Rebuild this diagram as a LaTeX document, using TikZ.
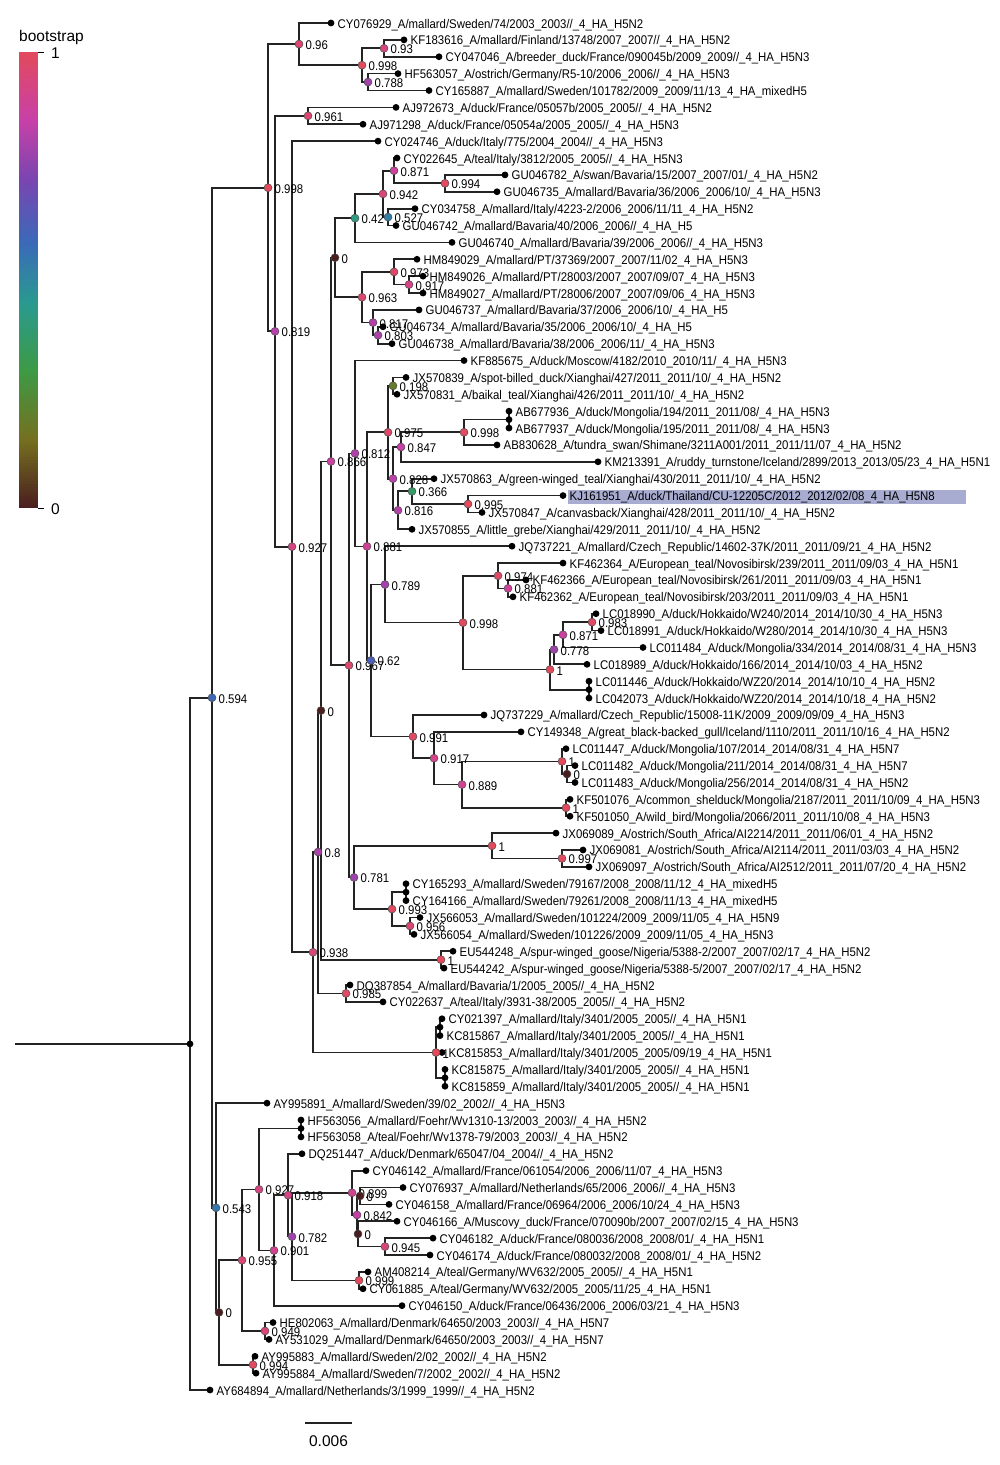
\documentclass[tikz,border=0pt]{standalone}
\usepackage{fontspec}
\usepackage{graphicx}
\setmainfont{Liberation Sans}
\usetikzlibrary{backgrounds}
\definecolor{cs0}{HTML}{4A1E1E}
\definecolor{cs1}{HTML}{757020}
\definecolor{cs2}{HTML}{3D9A45}
\definecolor{cs3}{HTML}{2A9A90}
\definecolor{cs4}{HTML}{3A6AB8}
\definecolor{cs5}{HTML}{7A45B0}
\definecolor{cs6}{HTML}{C840A8}
\definecolor{cs7}{HTML}{E24A5C}
\definecolor{hlcol}{RGB}{168,172,208}
\definecolor{brcol}{RGB}{35,35,35}
\newcommand\bsseg[5]{\pgfmathtruncatemacro\bsp{round(100*(#1-#2)/(#3-#2))}\colorlet{bscur}{#5!\bsp!#4}}
\newcommand\bsmix[1]{%
 \pgfmathsetmacro\bsv{#1}%
 \ifdim\bsv pt<0.15pt \bsseg{\bsv}{0}{0.15}{cs0}{cs1}%
 \else\ifdim\bsv pt<0.3pt \bsseg{\bsv}{0.15}{0.3}{cs1}{cs2}%
 \else\ifdim\bsv pt<0.45pt \bsseg{\bsv}{0.3}{0.45}{cs2}{cs3}%
 \else\ifdim\bsv pt<0.58pt \bsseg{\bsv}{0.45}{0.58}{cs3}{cs4}%
 \else\ifdim\bsv pt<0.72pt \bsseg{\bsv}{0.58}{0.72}{cs4}{cs5}%
 \else\ifdim\bsv pt<0.85pt \bsseg{\bsv}{0.72}{0.85}{cs5}{cs6}%
 \else \bsseg{\bsv}{0.85}{1}{cs6}{cs7}%
 \fi\fi\fi\fi\fi\fi}
\newcommand\nfont{\fontsize{12.6}{14}\selectfont}
\newcommand\nt[1]{\scalebox{0.905}[1]{\nfont #1}}
\tikzset{
 brst/.style={draw=brcol, line width=1.7pt},
 leafdot/.style={circle, fill=black, inner sep=0pt, minimum size=6.8pt},
 bsdot/.style={circle, draw=black!70, line width=0.5pt, inner sep=0pt, minimum size=8pt},
 nodot/.style={circle, fill=black, inner sep=0pt, minimum size=6.8pt},
 leaflab/.style={anchor=base west, inner sep=0pt},
 bslab/.style={anchor=base west, inner sep=0pt},
 plainlab/.style={inner sep=0pt, font=\fontsize{15.5}{17}\selectfont},
}
\newcommand\lf[4]{\node[leafdot] (#1) at (#2,#3) {}; \node[leaflab] (#1t) at ([xshift=6.5pt,yshift=-5pt]#1.center) {\nt{\detokenize{#4}}};}
\newcommand\bn[4]{\bsmix{#4}\node[bsdot, fill=bscur] (#1) at (#2,#3) {}; \node[bslab] (#1t) at ([xshift=6.5pt,yshift=-5.5pt]#1.center) {\nt{#4}};}
\newcommand\zn[3]{\node[nodot] (#1) at (#2,#3) {};}
\newcommand\kids[2]{\foreach \ch in {#2}{\draw[brst] (#1.center) |- (\ch.center);}}
\begin{document}
\begin{tikzpicture}[x=1pt,y=-1pt]
\useasboundingbox (0,0) rectangle (1000,1465);
% colour bar
\foreach \i in {0,...,151}{\pgfmathsetmacro\vv{(\i+0.5)/152}\bsmix{\vv}\fill[bscur] (19,{508-(\i+1)*3}) rectangle (38,{508-\i*3+0.4});}
\node[plainlab, anchor=base west] (cbt) at (19,41) {bootstrap};
\coordinate (tk1a) at (38,52); \coordinate (tk1b) at (44,52);
\coordinate (tk0a) at (38,508); \coordinate (tk0b) at (44,508);
\draw[line width=0.8pt] (tk1a) -- (tk1b); \draw[line width=0.8pt] (tk0a) -- (tk0b);
\node[plainlab, anchor=west] (cb1) at (51,53) {1};
\node[plainlab, anchor=west] (cb0) at (51,509) {0};
% scale bar
\coordinate (sb1) at (305,1423); \coordinate (sb2) at (352,1423);
\draw[brst, line width=1.3pt] (sb1) -- (sb2);
\node[plainlab] (sbt) at (328.5,1441) {0.006};
\begin{scope}[yshift=-23pt, y=-16.877pt]
% leaves
\lf{L0}{331}{0}{CY076929_A/mallard/Sweden/74/2003_2003//_4_HA_H5N2}
\lf{L1}{404}{1}{KF183616_A/mallard/Finland/13748/2007_2007//_4_HA_H5N2}
\lf{L2}{439}{2}{CY047046_A/breeder_duck/France/090045b/2009_2009//_4_HA_H5N3}
\lf{L3}{398}{3}{HF563057_A/ostrich/Germany/R5-10/2006_2006//_4_HA_H5N3}
\lf{L4}{429}{4}{CY165887_A/mallard/Sweden/101782/2009_2009/11/13_4_HA_mixedH5}
\lf{L5}{396}{5}{AJ972673_A/duck/France/05057b/2005_2005//_4_HA_H5N2}
\lf{L6}{363}{6}{AJ971298_A/duck/France/05054a/2005_2005//_4_HA_H5N3}
\lf{L7}{378}{7}{CY024746_A/duck/Italy/775/2004_2004//_4_HA_H5N3}
\lf{L8}{397}{8}{CY022645_A/teal/Italy/3812/2005_2005//_4_HA_H5N3}
\lf{L9}{505}{9}{GU046782_A/swan/Bavaria/15/2007_2007/01/_4_HA_H5N2}
\lf{L10}{497}{10}{GU046735_A/mallard/Bavaria/36/2006_2006/10/_4_HA_H5N3}
\lf{L11}{415}{11}{CY034758_A/mallard/Italy/4223-2/2006_2006/11/11_4_HA_H5N2}
\lf{L12}{396}{12}{GU046742_A/mallard/Bavaria/40/2006_2006//_4_HA_H5}
\lf{L13}{452}{13}{GU046740_A/mallard/Bavaria/39/2006_2006//_4_HA_H5N3}
\lf{L14}{417}{14}{HM849029_A/mallard/PT/37369/2007_2007/11/02_4_HA_H5N3}
\lf{L15}{423}{15}{HM849026_A/mallard/PT/28003/2007_2007/09/07_4_HA_H5N3}
\lf{L16}{423}{16}{HM849027_A/mallard/PT/28006/2007_2007/09/06_4_HA_H5N3}
\lf{L17}{419}{17}{GU046737_A/mallard/Bavaria/37/2006_2006/10/_4_HA_H5}
\lf{L18}{383}{18}{GU046734_A/mallard/Bavaria/35/2006_2006/10/_4_HA_H5}
\lf{L19}{392}{19}{GU046738_A/mallard/Bavaria/38/2006_2006/11/_4_HA_H5N3}
\lf{L20}{464}{20}{KF885675_A/duck/Moscow/4182/2010_2010/11/_4_HA_H5N3}
\lf{L21}{406}{21}{JX570839_A/spot-billed_duck/Xianghai/427/2011_2011/10/_4_HA_H5N2}
\lf{L22}{397}{22}{JX570831_A/baikal_teal/Xianghai/426/2011_2011/10/_4_HA_H5N2}
\lf{L23}{509}{23}{AB677936_A/duck/Mongolia/194/2011_2011/08/_4_HA_H5N3}
\lf{L24}{509}{24}{AB677937_A/duck/Mongolia/195/2011_2011/08/_4_HA_H5N3}
\lf{L25}{497}{25}{AB830628_A/tundra_swan/Shimane/3211A001/2011_2011/11/07_4_HA_H5N2}
\lf{L26}{598}{26}{KM213391_A/ruddy_turnstone/Iceland/2899/2013_2013/05/23_4_HA_H5N1}
\lf{L27}{434}{27}{JX570863_A/green-winged_teal/Xianghai/430/2011_2011/10/_4_HA_H5N2}
\lf{L28}{563}{28}{KJ161951_A/duck/Thailand/CU-12205C/2012_2012/02/08_4_HA_H5N8}
\lf{L29}{482}{29}{JX570847_A/canvasback/Xianghai/428/2011_2011/10/_4_HA_H5N2}
\lf{L30}{412}{30}{JX570855_A/little_grebe/Xianghai/429/2011_2011/10/_4_HA_H5N2}
\lf{L31}{512}{31}{JQ737221_A/mallard/Czech_Republic/14602-37K/2011_2011/09/21_4_HA_H5N2}
\lf{L32}{563}{32}{KF462364_A/European_teal/Novosibirsk/239/2011_2011/09/03_4_HA_H5N1}
\lf{L33}{526}{33}{KF462366_A/European_teal/Novosibirsk/261/2011_2011/09/03_4_HA_H5N1}
\lf{L34}{513}{34}{KF462362_A/European_teal/Novosibirsk/203/2011_2011/09/03_4_HA_H5N1}
\lf{L35}{596}{35}{LC018990_A/duck/Hokkaido/W240/2014_2014/10/30_4_HA_H5N3}
\lf{L36}{601}{36}{LC018991_A/duck/Hokkaido/W280/2014_2014/10/30_4_HA_H5N3}
\lf{L37}{643}{37}{LC011484_A/duck/Mongolia/334/2014_2014/08/31_4_HA_H5N3}
\lf{L38}{587}{38}{LC018989_A/duck/Hokkaido/166/2014_2014/10/03_4_HA_H5N2}
\lf{L39}{589}{39}{LC011446_A/duck/Hokkaido/WZ20/2014_2014/10/10_4_HA_H5N2}
\lf{L40}{589}{40}{LC042073_A/duck/Hokkaido/WZ20/2014_2014/10/18_4_HA_H5N2}
\lf{L41}{484}{41}{JQ737229_A/mallard/Czech_Republic/15008-11K/2009_2009/09/09_4_HA_H5N3}
\lf{L42}{521}{42}{CY149348_A/great_black-backed_gull/Iceland/1110/2011_2011/10/16_4_HA_H5N2}
\lf{L43}{566}{43}{LC011447_A/duck/Mongolia/107/2014_2014/08/31_4_HA_H5N7}
\lf{L44}{575}{44}{LC011482_A/duck/Mongolia/211/2014_2014/08/31_4_HA_H5N7}
\lf{L45}{575}{45}{LC011483_A/duck/Mongolia/256/2014_2014/08/31_4_HA_H5N2}
\lf{L46}{570}{46}{KF501076_A/common_shelduck/Mongolia/2187/2011_2011/10/09_4_HA_H5N3}
\lf{L47}{570}{47}{KF501050_A/wild_bird/Mongolia/2066/2011_2011/10/08_4_HA_H5N3}
\lf{L48}{556}{48}{JX069089_A/ostrich/South_Africa/AI2214/2011_2011/06/01_4_HA_H5N2}
\lf{L49}{583}{49}{JX069081_A/ostrich/South_Africa/AI2114/2011_2011/03/03_4_HA_H5N2}
\lf{L50}{589}{50}{JX069097_A/ostrich/South_Africa/AI2512/2011_2011/07/20_4_HA_H5N2}
\lf{L51}{406}{51}{CY165293_A/mallard/Sweden/79167/2008_2008/11/12_4_HA_mixedH5}
\lf{L52}{406}{52}{CY164166_A/mallard/Sweden/79261/2008_2008/11/13_4_HA_mixedH5}
\lf{L53}{420}{53}{JX566053_A/mallard/Sweden/101224/2009_2009/11/05_4_HA_H5N9}
\lf{L54}{414}{54}{JX566054_A/mallard/Sweden/101226/2009_2009/11/05_4_HA_H5N3}
\lf{L55}{453}{55}{EU544248_A/spur-winged_goose/Nigeria/5388-2/2007_2007/02/17_4_HA_H5N2}
\lf{L56}{444}{56}{EU544242_A/spur-winged_goose/Nigeria/5388-5/2007_2007/02/17_4_HA_H5N2}
\lf{L57}{350}{57}{DQ387854_A/mallard/Bavaria/1/2005_2005//_4_HA_H5N2}
\lf{L58}{383}{58}{CY022637_A/teal/Italy/3931-38/2005_2005//_4_HA_H5N2}
\lf{L59}{442}{59}{CY021397_A/mallard/Italy/3401/2005_2005//_4_HA_H5N1}
\lf{L60}{440}{60}{KC815867_A/mallard/Italy/3401/2005_2005//_4_HA_H5N1}
\lf{L61}{442}{61}{KC815853_A/mallard/Italy/3401/2005_2005/09/19_4_HA_H5N1}
\lf{L62}{445}{62}{KC815875_A/mallard/Italy/3401/2005_2005//_4_HA_H5N1}
\lf{L63}{445}{63}{KC815859_A/mallard/Italy/3401/2005_2005//_4_HA_H5N1}
\lf{L64}{267}{64}{AY995891_A/mallard/Sweden/39/02_2002//_4_HA_H5N3}
\lf{L65}{301}{65}{HF563056_A/mallard/Foehr/Wv1310-13/2003_2003//_4_HA_H5N2}
\lf{L66}{301}{66}{HF563058_A/teal/Foehr/Wv1378-79/2003_2003//_4_HA_H5N2}
\lf{L67}{302}{67}{DQ251447_A/duck/Denmark/65047/04_2004//_4_HA_H5N2}
\lf{L68}{366}{68}{CY046142_A/mallard/France/061054/2006_2006/11/07_4_HA_H5N3}
\lf{L69}{403}{69}{CY076937_A/mallard/Netherlands/65/2006_2006//_4_HA_H5N3}
\lf{L70}{389}{70}{CY046158_A/mallard/France/06964/2006_2006/10/24_4_HA_H5N3}
\lf{L71}{397}{71}{CY046166_A/Muscovy_duck/France/070090b/2007_2007/02/15_4_HA_H5N3}
\lf{L72}{433}{72}{CY046182_A/duck/France/080036/2008_2008/01/_4_HA_H5N1}
\lf{L73}{430}{73}{CY046174_A/duck/France/080032/2008_2008/01/_4_HA_H5N2}
\lf{L74}{368}{74}{AM408214_A/teal/Germany/WV632/2005_2005//_4_HA_H5N1}
\lf{L75}{363}{75}{CY061885_A/teal/Germany/WV632/2005_2005/11/25_4_HA_H5N1}
\lf{L76}{402}{76}{CY046150_A/duck/France/06436/2006_2006/03/21_4_HA_H5N3}
\lf{L77}{273}{77}{HE802063_A/mallard/Denmark/64650/2003_2003//_4_HA_H5N7}
\lf{L78}{269}{78}{AY531029_A/mallard/Denmark/64650/2003_2003//_4_HA_H5N7}
\lf{L79}{255}{79}{AY995883_A/mallard/Sweden/2/02_2002//_4_HA_H5N2}
\lf{L80}{256}{80}{AY995884_A/mallard/Sweden/7/2002_2002//_4_HA_H5N2}
\lf{L81}{210}{81}{AY684894_A/mallard/Netherlands/3/1999_1999//_4_HA_H5N2}
% internal nodes
\zn{root}{190}{60.49}
\coordinate (stem) at (15,60.49);
\bn{n594}{212}{39.98}{0.594}
\bn{n998d}{268}{9.76}{0.998}
\bn{n96}{299}{1.25}{0.96}
\bn{n998a}{362}{2.5}{0.998}
\bn{n93}{384}{1.5}{0.93}
\bn{n788}{368}{3.5}{0.788}
\bn{n819}{275}{18.27}{0.819}
\bn{n961}{308}{5.5}{0.961}
\bn{n927}{292}{31.03}{0.927}
\bn{n938}{313}{55.06}{0.938}
\bn{n8}{318}{49.12}{0.8}
\bn{n0c}{321}{40.74}{0}
\bn{n866}{331}{25.98}{0.866}
\bn{nA}{335}{13.906}{0}
\bn{n42}{355}{11.5625}{0.42}
\bn{n942}{383}{10.125}{0.942}
\bn{n871}{394}{8.75}{0.871}
\bn{n994}{445}{9.5}{0.994}
\bn{n527}{388}{11.5}{0.527}
\bn{n963}{362}{16.25}{0.963}
\bn{n973}{394}{14.75}{0.973}
\bn{n917a}{409}{15.5}{0.917}
\bn{n817}{373}{17.75}{0.817}
\bn{n803}{378}{18.5}{0.803}
\bn{n967}{349}{38.06}{0.967}
\bn{n812}{355}{25.5}{0.812}
\bn{n881}{367}{31.01}{0.881}
\bn{n975}{388}{24.25}{0.975}
\bn{n198}{393}{21.5}{0.198}
\bn{n828}{393}{27.0}{0.828}
\bn{n847}{401}{25.125}{0.847}
\bn{n998b}{464}{24.25}{0.998}
\zn{nAB}{509}{23.5}
\bn{n816}{398}{28.875}{0.816}
\bn{n366}{412}{27.75}{0.366}
\bn{n995}{468}{28.5}{0.995}
\bn{n62}{371}{37.77}{0.62}
\bn{n789}{385}{33.27}{0.789}
\bn{n998c}{463}{35.53}{0.998}
\bn{n974}{498}{32.75}{0.974}
\bn{n881b}{508}{33.5}{0.881}
\bn{n1a}{550}{38.31}{1}
\bn{n778}{554}{37.125}{0.778}
\bn{n871b}{563}{36.25}{0.871}
\bn{n983}{592}{35.5}{0.983}
\zn{nLC}{589}{39.5}
\bn{n991}{413}{42.28}{0.991}
\bn{n917b}{434}{43.56}{0.917}
\bn{n889}{462}{45.125}{0.889}
\bn{n1b}{562}{43.75}{1}
\bn{n0b}{567}{44.5}{0}
\bn{n1c}{566}{46.5}{1}
\bn{n781}{354}{50.625}{0.781}
\bn{n1d}{492}{48.75}{1}
\bn{n997}{562}{49.5}{0.997}
\bn{n993}{392}{52.5}{0.993}
\zn{nSw}{406}{51.5}
\bn{n956}{410}{53.5}{0.956}
\bn{n1e}{441}{55.5}{1}
\bn{n985}{346}{57.5}{0.985}
\bn{n1f}{436}{61.0}{1}
\zn{nIt1}{440}{59.5}
\zn{nIt2}{445}{62.5}
\bn{n543}{216}{70.20}{0.543}
\bn{n0f}{219}{76.40}{0}
\bn{n955}{242}{73.31}{0.955}
\bn{n927b}{259}{69.11}{0.927}
\zn{nHF}{301}{65.5}
\bn{n901}{274}{72.73}{0.901}
\bn{n918}{288}{69.45}{0.918}
\bn{n782}{292}{71.91}{0.782}
\bn{n899}{352}{69.31}{0.899}
\bn{n842}{357}{70.625}{0.842}
\bn{n0d}{360}{69.5}{0}
\bn{n0e}{358}{71.75}{0}
\bn{n945}{385}{72.5}{0.945}
\bn{n999}{359}{74.5}{0.999}
\bn{n949}{265}{77.5}{0.949}
\bn{n994b}{253}{79.5}{0.994}
\begin{pgfonlayer}{background}
\fill[hlcol] ([xshift=5pt,yshift=6pt]L28.center) rectangle ([xshift=403pt,yshift=-8.2pt]L28.center);
\draw[brst] (stem) -- (root.center);
\kids{root}{n594,L81}
\kids{n594}{n998d,n543}
\kids{n998d}{n96,n819}
\kids{n96}{L0,n998a}
\kids{n998a}{n93,n788}
\kids{n93}{L1,L2}
\kids{n788}{L3,L4}
\kids{n819}{n961,n927}
\kids{n961}{L5,L6}
\kids{n927}{L7,n938}
\kids{n938}{n8,n1f}
\kids{n8}{n0c,n985}
\kids{n0c}{n866,n1e}
\kids{n866}{nA,n967}
\kids{nA}{n42,n963}
\kids{n42}{n942,L13}
\kids{n942}{n871,n527}
\kids{n871}{L8,n994}
\kids{n994}{L9,L10}
\kids{n527}{L11,L12}
\kids{n963}{n973,n817}
\kids{n973}{L14,n917a}
\kids{n917a}{L15,L16}
\kids{n817}{L17,n803}
\kids{n803}{L18,L19}
\kids{n967}{n812,n781}
\kids{n812}{L20,n881}
\kids{n881}{n975,n62}
\kids{n975}{n198,n828}
\kids{n198}{L21,L22}
\kids{n828}{n847,n816}
\kids{n847}{n998b,L26}
\kids{n998b}{nAB,L25}
\kids{nAB}{L23,L24}
\kids{n816}{n366,L30}
\kids{n366}{L27,n995}
\kids{n995}{L28,L29}
\kids{n62}{n789,n991}
\kids{n789}{L31,n998c}
\kids{n998c}{n974,n1a}
\kids{n974}{L32,n881b}
\kids{n881b}{L33,L34}
\kids{n1a}{n778,nLC}
\kids{n778}{n871b,L38}
\kids{n871b}{n983,L37}
\kids{n983}{L35,L36}
\kids{nLC}{L39,L40}
\kids{n991}{L41,n917b}
\kids{n917b}{L42,n889}
\kids{n889}{n1b,n1c}
\kids{n1b}{L43,n0b}
\kids{n0b}{L44,L45}
\kids{n1c}{L46,L47}
\kids{n781}{n1d,n993}
\kids{n1d}{L48,n997}
\kids{n997}{L49,L50}
\kids{n993}{nSw,n956}
\kids{nSw}{L51,L52}
\kids{n956}{L53,L54}
\kids{n1e}{L55,L56}
\kids{n985}{L57,L58}
\kids{n1f}{nIt1,L61,nIt2}
\kids{nIt1}{L59,L60}
\kids{nIt2}{L62,L63}
\kids{n543}{L64,n0f}
\kids{n0f}{n955,n994b}
\kids{n955}{n927b,n949}
\kids{n927b}{nHF,n901}
\kids{nHF}{L65,L66}
\kids{n901}{n918,L76}
\kids{n918}{L67,n782}
\kids{n782}{n899,n999}
\kids{n899}{L68,n842}
\kids{n842}{n0d,n0e}
\kids{n0d}{L69,L70}
\kids{n0e}{L71,n945}
\kids{n945}{L72,L73}
\kids{n999}{L74,L75}
\kids{n949}{L77,L78}
\kids{n994b}{L79,L80}
\end{pgfonlayer}
\end{scope}
\end{tikzpicture}
\end{document}
